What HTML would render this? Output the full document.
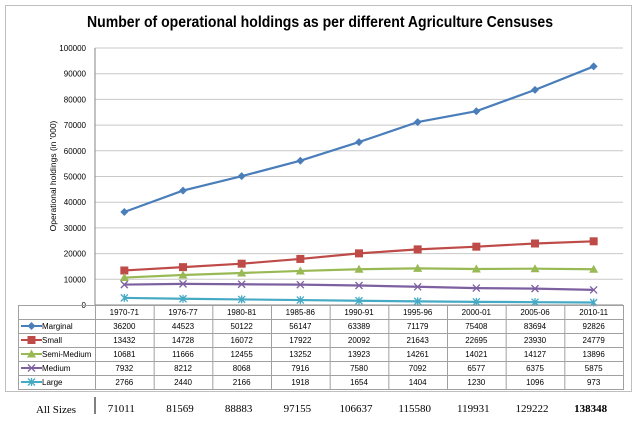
<!DOCTYPE html>
<html><head><meta charset="utf-8"><style>
html,body{margin:0;padding:0;background:#fff;}
svg{display:block;font-family:"Liberation Sans",sans-serif;}
</style></head><body>
<svg id="chart" width="640" height="435" viewBox="0 0 640 435">
<rect x="5.5" y="5.5" width="626" height="386" fill="#fff" stroke="#bfbfbf"/>
<text x="320" y="27" text-anchor="middle" font-size="16" font-weight="bold" textLength="466" lengthAdjust="spacingAndGlyphs">Number of operational holdings as per different Agriculture Censuses</text>
<text transform="translate(56,176) rotate(-90)" text-anchor="middle" font-size="8.5">Operational holdings (in '000)</text>
<g id="grid"></g><g id="yticks"></g><g id="series"></g><g id="table"></g><g id="totals"></g>
</svg>
<script>
const categories=["1970-71","1976-77","1980-81","1985-86","1990-91","1995-96","2000-01","2005-06","2010-11"];
const seriesNames=["Marginal","Small","Semi-Medium","Medium","Large"];
const marginal=[36200,44523,50122,56147,63389,71179,75408,83694,92826];
const small=[13432,14728,16072,17922,20092,21643,22695,23930,24779];
const semiMedium=[10681,11666,12455,13252,13923,14261,14021,14127,13896];
const medium=[7932,8212,8068,7916,7580,7092,6577,6375,5875];
const large=[2766,2440,2166,1918,1654,1404,1230,1096,973];
const totals=["71011","81569","88883","97155","106637","115580","119931","129222","138348"];
const yTicks=[0,10000,20000,30000,40000,50000,60000,70000,80000,90000,100000];
const colors=["#4a7ebb","#be4b48","#98b954","#7d60a0","#46aac5"];
const markers=["diamond","square","triangle","x","star"];
const allSeries=[marginal,small,semiMedium,medium,large];
const NS="http://www.w3.org/2000/svg";
const L=95,R=623,T=48,B=305,yMax=100000;
const colW=(R-L)/categories.length;
const xS=i=>L+colW*(i+0.5);
const yS=v=>B-(v/yMax)*(B-T);
function mk(tag,attrs,parent){const e=document.createElementNS(NS,tag);for(const k in attrs)e.setAttribute(k,attrs[k]);parent.appendChild(e);return e;}
const grid=document.getElementById('grid'),yt=document.getElementById('yticks');
yTicks.forEach(v=>{
  const ln=mk('line',{x1:L,x2:R,y1:yS(v),y2:yS(v),stroke:v===0?'#868686':'#c8c8c8','stroke-width':1},grid);
  
  
  const t=mk('text',{x:86,y:yS(v)+3,'text-anchor':'end','font-size':8,fill:'#000'},yt);
  t.textContent=v;
  
  
});
const ax=mk('line',{x1:L,x2:L,y1:T,y2:B,stroke:'#868686'},grid);


function marker(type,x,y,c,g){
  let e;
  if(type==='diamond')e=mk('path',{d:`M${x} ${y-4}L${x+4} ${y}L${x} ${y+4}L${x-4} ${y}Z`,fill:c},g);
  else if(type==='square')e=mk('rect',{x:x-4,y:y-4,width:8,height:8,fill:c},g);
  else if(type==='triangle')e=mk('path',{d:`M${x} ${y-4.5}L${x+4.5} ${y+3.5}L${x-4.5} ${y+3.5}Z`,fill:c},g);
  else if(type==='x')e=mk('path',{d:`M${x-3.5} ${y-3.5}L${x+3.5} ${y+3.5}M${x+3.5} ${y-3.5}L${x-3.5} ${y+3.5}`,stroke:c,'stroke-width':1.3,fill:'none'},g);
  else e=mk('path',{d:`M${x-3.5} ${y-3.5}L${x+3.5} ${y+3.5}M${x+3.5} ${y-3.5}L${x-3.5} ${y+3.5}M${x} ${y-4}L${x} ${y+4}`,stroke:c,'stroke-width':1.3,fill:'none'},g);
  return e;
}
const sg=document.getElementById('series');
allSeries.forEach((data,si)=>{
  const g=mk('g',{},sg);
  
  
  const p=mk('polyline',{points:data.map((v,i)=>xS(i)+','+yS(v)).join(' '),fill:'none',stroke:colors[si],'stroke-width':2.2},g);
  
  
  data.forEach((v,i)=>{
    const m=marker(markers[si],xS(i),yS(v),colors[si],g);
    
    
  });
});
// table
const tb=document.getElementById('table');
const rowH=14,tTop=305,tLeft=18;
const nRows=1+seriesNames.length;
const tbl=mk('rect',{x:tLeft+0.5,y:tTop+0.5,width:R-tLeft,height:rowH*nRows,fill:'none',stroke:'#a0a0a0'},tb);


for(let r=1;r<nRows;r++){mk('line',{x1:tLeft,x2:R,y1:tTop+r*rowH+0.5,y2:tTop+r*rowH+0.5,stroke:'#a0a0a0'},tb);}
for(let c=0;c<categories.length;c++){mk('line',{x1:L+c*colW+0.5,x2:L+c*colW+0.5,y1:tTop,y2:tTop+rowH*nRows,stroke:'#a0a0a0'},tb);}
categories.forEach((c,i)=>{
  const t=mk('text',{x:xS(i),y:tTop+10,'text-anchor':'middle','font-size':8},tb);
  t.textContent=c;
  
  
});
allSeries.forEach((data,si)=>{
  const y=tTop+(si+1)*rowH;
  const lg=mk('g',{},tb);
  
  
  mk('line',{x1:21,x2:42,y1:y+7,y2:y+7,stroke:colors[si],'stroke-width':2},lg);
  marker(markers[si],31.5,y+7,colors[si],lg);
  const lt=mk('text',{x:42,y:y+10,'font-size':8},lg);
  lt.textContent=seriesNames[si];
  data.forEach((v,i)=>{
    const t=mk('text',{x:xS(i),y:y+10,'text-anchor':'middle','font-size':8},tb);
    t.textContent=v;
    
    
  });
});
const tg=document.getElementById('totals');
const al=mk('text',{x:56,y:413,'text-anchor':'middle','font-size':11,'font-family':'Liberation Serif, serif'},tg);
al.textContent='All Sizes';


mk('line',{x1:95,x2:95,y1:397,y2:414,stroke:'#000'},tg);
totals.forEach((v,i)=>{
  const t=mk('text',{x:xS(i)-3,y:412,'text-anchor':'middle','font-size':11,'font-family':'Liberation Serif, serif','font-weight':i===8?'bold':'normal'},tg);
  t.textContent=v;
  
  
});
</script>
</body></html>
